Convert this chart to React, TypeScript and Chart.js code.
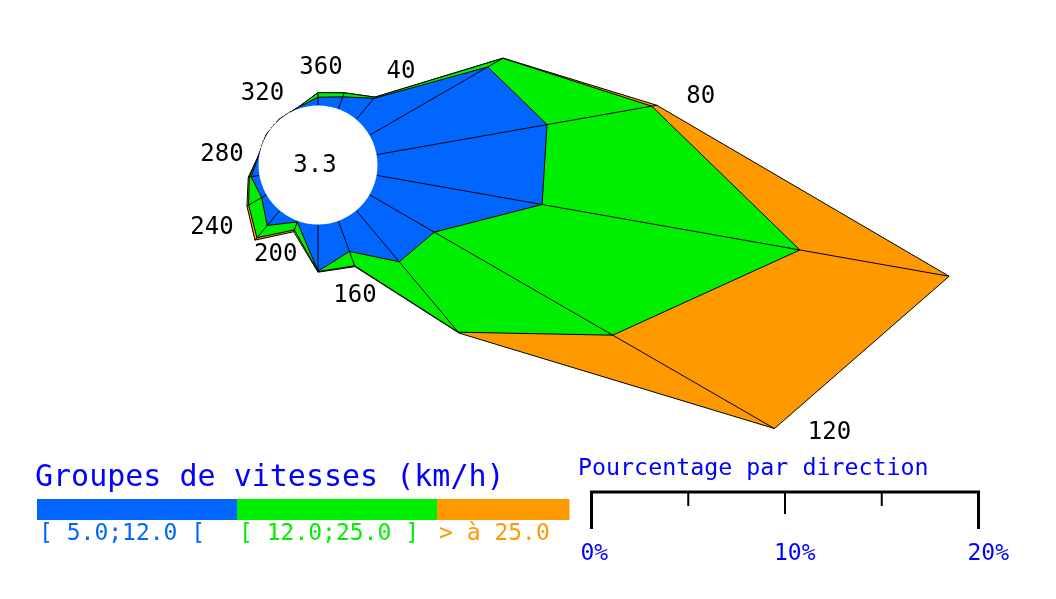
import React, { useEffect, useRef } from 'react';
import { Chart, registerables } from 'chart.js';

Chart.register(...registerables);

// ---------- data ----------
const DIRECTIONS = ['360', '20', '40', '60', '80', '100', '120', '140', '160', '180', '200', '220', '240', '260', '280', '300', '320', '340'];
const LABELLED_DIRECTIONS = ['360', '40', '80', '120', '160', '200', '240', '280', '320'];
const CALM = '3.3';
const CLASS_NAMES = ['[ 5.0;12.0 [', '[ 12.0;25.0 ]', '> à 25.0'];
// percentage of observations per direction, per speed class
const SLOW = [0.40, 0.65, 1.40, 7.03, 8.92, 8.66, 3.84, 3.43, 1.65, 2.39, 0.03, 0.98, 0.26, 0.41, 0, 0, 0, 0.04];
const MEDIUM = [0.24, 0.22, 0.08, 0.90, 5.49, 13.53, 10.65, 4.75, 0.79, 0.02, 0.44, 0.83, 0.78, 0.10, 0, 0, 0, 0];
const FAST = [0, 0, 0, 0.02, 0.27, 7.83, 9.65, 0.06, 0.05, 0.03, 0.10, 0.16, 0.10, 0.05, 0, 0, 0, 0];
const SCALE_TICKS = [0, 5, 10, 15, 20];
const SCALE_TICK_LABELS = ['0%', '', '10%', '', '20%'];
const LEGEND_TITLE = 'Groupes de vitesses (km/h)';
const SCALE_TITLE = 'Pourcentage par direction';

// ---------- style ----------
const COLORS = ['#0066ff', '#00ee00', '#ff9900'];
const TEXT_BLUE = '#0000ff';
const FONT = '"DejaVu Sans Mono", monospace';
const HALF = 700;            // half size of the (oversized) canvas
const CENTER_X = 318;        // rose centre on page
const CENTER_Y = 165;
const OFF_X = HALF - CENTER_X;
const OFF_Y = HALF - CENTER_Y;
const PX_PER_PCT = 19.35;
const HOLE = 3.1;            // hole radius, in % units
const R_MAX = HALF / PX_PER_PCT - HOLE;
// label text centre offsets from the outer vertex (px)
const LABEL_NUDGE = [[3, -25], [26, -25], [44, -8], [55, 4], [0, 29], [-18, 23], [-35, 22], [-37, 0], [-17, -25]];
const LEGEND_WIDTHS = [200, 200, 132.5];

const cumulative = (() => {
  const a = SLOW.map((v) => v);
  const b = SLOW.map((v, i) => v + MEDIUM[i]);
  const c = SLOW.map((v, i) => v + MEDIUM[i] + FAST[i]);
  return [a, b, c];
})();

const rosePlugin = {
  id: 'roseExtras',
  beforeDatasetsDraw(chart: any) {
    const r = chart.scales.r;
    const ctx = chart.ctx;
    const rad = r.getDistanceFromCenterForValue(0);
    ctx.save();
    ctx.setLineDash([1, 3]);
    ctx.lineWidth = 1;
    ctx.strokeStyle = '#000';
    ctx.beginPath();
    ctx.arc(r.xCenter, r.yCenter, rad, 0, Math.PI * 2);
    ctx.stroke();
    ctx.restore();
  },
  afterDatasetsDraw(chart: any) {
    const r = chart.scales.r;
    const ctx = chart.ctx;
    const totals = cumulative[2];
    ctx.save();
    // radial lines
    ctx.strokeStyle = '#000';
    ctx.lineWidth = 1;
    totals.forEach((t, i) => {
      if (t <= 0) return;
      const p0 = r.getPointPositionForValue(i, 0);
      const p1 = r.getPointPositionForValue(i, t);
      ctx.beginPath();
      ctx.moveTo(p0.x, p0.y);
      ctx.lineTo(p1.x, p1.y);
      ctx.stroke();
    });
    // calm hole
    const rad = r.getDistanceFromCenterForValue(0);
    ctx.fillStyle = '#ffffff';
    ctx.beginPath();
    ctx.arc(r.xCenter, r.yCenter, rad - 0.5, 0, Math.PI * 2);
    ctx.fill();
    ctx.fillStyle = '#000';
    ctx.font = `24px ${FONT}`;
    ctx.textAlign = 'center';
    ctx.textBaseline = 'middle';
    ctx.fillText(CALM, r.xCenter - 3, r.yCenter + 1);
    // direction labels
    LABELLED_DIRECTIONS.forEach((lab, k) => {
      const i = DIRECTIONS.indexOf(lab);
      const p = r.getPointPositionForValue(i, totals[i]);
      const [dx, dy] = LABEL_NUDGE[k];
      ctx.fillText(lab, p.x + dx, p.y + dy);
    });

    // ---- legend and scale bar, in page coordinates ----
    ctx.translate(OFF_X, OFF_Y);
    ctx.textAlign = 'left';
    ctx.textBaseline = 'alphabetic';
    ctx.fillStyle = TEXT_BLUE;
    ctx.font = `30px ${FONT}`;
    ctx.fillText(LEGEND_TITLE, 35, 486);
    let x = 37;
    ctx.font = `23px ${FONT}`;
    CLASS_NAMES.forEach((name, k) => {
      ctx.fillStyle = COLORS[k];
      ctx.fillRect(x, 499, LEGEND_WIDTHS[k], 21);
      ctx.fillText(name, x + 2, 540);
      x += LEGEND_WIDTHS[k];
    });

    ctx.fillStyle = TEXT_BLUE;
    ctx.font = `23.3px ${FONT}`;
    ctx.fillText(SCALE_TITLE, 578, 475);
    const unit = r.getDistanceFromCenterForValue(1) - r.getDistanceFromCenterForValue(0);
    const x0 = 591.5;
    const last = SCALE_TICKS[SCALE_TICKS.length - 1];
    ctx.strokeStyle = '#000';
    ctx.lineWidth = 3;
    ctx.beginPath();
    ctx.moveTo(x0 - 1.5, 492);
    ctx.lineTo(x0 + last * unit + 1.5, 492);
    ctx.stroke();
    SCALE_TICKS.forEach((t, k) => {
      const tx = x0 + t * unit;
      const major = t === 0 || t === last;
      const len = major ? 38 : (t % 10 === 0 ? 23 : 15);
      ctx.lineWidth = major ? 3 : 2;
      ctx.beginPath();
      ctx.moveTo(tx, 491);
      ctx.lineTo(tx, 491 + len);
      ctx.stroke();
      if (SCALE_TICK_LABELS[k]) {
        ctx.fillStyle = TEXT_BLUE;
        ctx.font = `23px ${FONT}`;
        ctx.fillText(SCALE_TICK_LABELS[k], tx - 11, 560);
      }
    });
    ctx.restore();
  },
};

export default function App() {
  const canvasRef = useRef<HTMLCanvasElement | null>(null);

  useEffect(() => {
    const canvas = canvasRef.current;
    if (!canvas) return;
    const chart = new Chart(canvas, {
      type: 'radar',
      data: {
        labels: DIRECTIONS,
        datasets: CLASS_NAMES.map((name, k) => ({
          label: name,
          data: cumulative[k],
          backgroundColor: COLORS[k],
          borderColor: '#000000',
          borderWidth: 1,
          fill: 'start',
          pointRadius: 0,
          pointHoverRadius: 0,
          tension: 0,
          clip: false,
        })),
      },
      options: {
        responsive: false,
        animation: false,
        events: [],
        layout: { padding: 0 },
        plugins: { legend: { display: false }, tooltip: { enabled: false } },
        scales: {
          r: {
            min: -HOLE,
            max: R_MAX,
            startAngle: 0,
            grid: { display: false },
            angleLines: { display: false },
            ticks: { display: false },
            pointLabels: { display: false },
          },
        },
      },
      plugins: [rosePlugin],
    } as any);
    return () => chart.destroy();
  }, []);

  return (
    <div style={{ position: 'fixed', left: 0, top: 0, width: 1056, height: 599, overflow: 'hidden', background: '#ffffff' }}>
      <div style={{ position: 'absolute', left: -OFF_X, top: -OFF_Y, width: HALF * 2, height: HALF * 2 }}>
        <canvas ref={canvasRef} width={HALF * 2} height={HALF * 2} style={{ display: 'block' }} />
      </div>
    </div>
  );
}
